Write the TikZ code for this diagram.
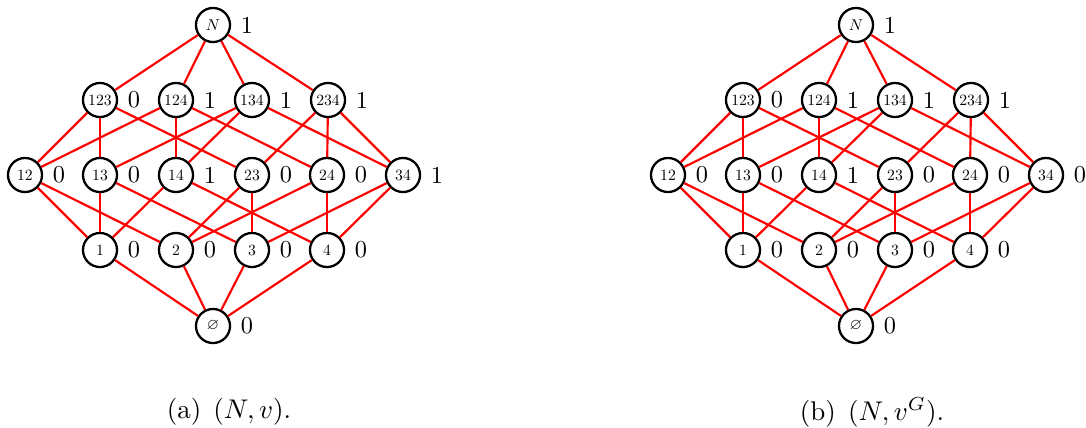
\documentclass[tikz,border=0pt]{standalone}
\usepackage{amssymb}
\usepackage{graphicx}
\newcommand\nlab[1]{\scalebox{0.58}{#1}}
\newcommand\vlab[1]{\scalebox{0.9}{#1}}
\begin{document}
\begin{tikzpicture}[x=0.37pt,y=-0.37pt,
  vx/.style={circle,draw,line width=0.85pt,minimum size=12.6pt,inner sep=0pt},
  ed/.style={red,line width=0.8pt},
  val/.style={inner sep=0pt},
  captxt/.style={font=\normalsize}]
\useasboundingbox (0,0) rectangle (1086,427);
\foreach \p/\ox/\w/\cp in {a/0/1/{(a)\hspace{4.5pt}$(N,v)$.},b/643/0/{(b)\hspace{4.5pt}$(N,v^G)$.}}{
  % top and bottom
  \node[vx] (\p N) at (\ox+213,25) {\nlab{$N$}};
  \node[val] (\p vN) at (\ox+247,25) {\vlab{1}};
  \node[vx] (\p E) at (\ox+213,326) {\nlab{$\varnothing$}};
  \node[val] (\p vE) at (\ox+247,326) {\vlab{0}};
  % 3-sets
  \foreach \s/\x/\vl in {123/100/0,124/176/1,134/252/1,234/328/1}{
    \node[vx] (\p\s) at (\ox+\x,100) {\nlab{\s}};
    \node[val] (\p v\s) at (\ox+\x+34,100) {\vlab{\vl}};
  }
  % 2-sets
  \foreach \s/\x/\vl in {12/25/0,13/100/0,14/176/1,23/252/0,24/327/0,34/403/\w}{
    \node[vx] (\p\s) at (\ox+\x,175) {\nlab{\s}};
    \node[val] (\p v\s) at (\ox+\x+34,175) {\vlab{\vl}};
  }
  % 1-sets
  \foreach \s/\x in {1/100,2/176,3/252,4/327}{
    \node[vx] (\p s\s) at (\ox+\x,250) {\nlab{\s}};
    \node[val] (\p vs\s) at (\ox+\x+34,250) {\vlab{0}};
  }
  % edges
  \foreach \s in {123,124,134,234}{\draw[ed] (\p N) -- (\p\s);}
  \foreach \a/\b in {123/12,123/13,123/23,124/12,124/14,124/24,134/13,134/14,134/34,234/23,234/24,234/34}{\draw[ed] (\p\a) -- (\p\b);}
  \foreach \a/\b in {12/1,12/2,13/1,13/3,14/1,14/4,23/2,23/3,24/2,24/4,34/3,34/4}{\draw[ed] (\p\a) -- (\p s\b);}
  \foreach \s in {1,2,3,4}{\draw[ed] (\p s\s) -- (\p E);}
  \node[captxt] (\p cap) at (\ox+229,412) {\cp};
}
\end{tikzpicture}
\end{document}
